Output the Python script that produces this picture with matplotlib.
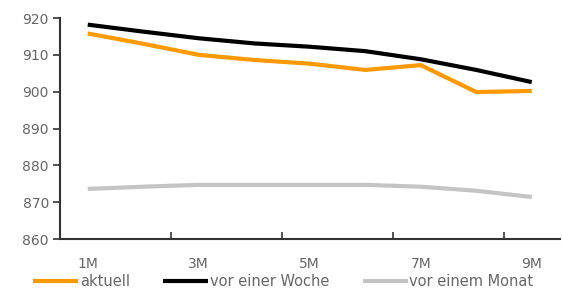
import numpy as np
import matplotlib.pyplot as plt

plt.rcParams['font.family'] = ['DejaVu Sans']

# ── data ──────────────────────────────────────────────────────────────────────
months = ["1M", "2M", "3M", "4M", "5M", "6M", "7M", "8M", "9M"]
aktuell = [915.8, 913.0, 910.0, 908.6, 907.6, 905.9, 907.2, 899.9, 900.2]
vor_woche = [918.2, 916.3, 914.5, 913.1, 912.2, 911.0, 908.8, 905.9, 902.6]
vor_monat = [873.6, 874.2, 874.7, 874.7, 874.7, 874.7, 874.2, 873.1, 871.4]
label_months = ["1M", "3M", "5M", "7M", "9M"]

x = np.arange(1, len(months) + 1)
txt_col = "#666666"
fs = 10

fig = plt.figure(figsize=(5.62, 3.03), dpi=100)
ax = fig.add_axes([60 / 562, 64 / 303, 499.5 / 562, 221 / 303])

ax.plot(x, aktuell, color="#FF9900", lw=3.0, label="aktuell", solid_capstyle="butt")
ax.plot(x, vor_woche, color="#000000", lw=3.0, label="vor einer Woche", solid_capstyle="butt")
ax.plot(x, vor_monat, color="#C4C4C4", lw=3.0, label="vor einem Monat", solid_capstyle="butt")

ax.set_xlim(0.5, len(months) + 0.5)
ax.set_ylim(860, 920)
ax.set_yticks(np.arange(860, 921, 10))

# tick marks between categories, labels on every second category
ax.set_xticks(np.arange(0.5, len(months), 2))
ax.set_xticklabels([])
ax.set_xticks([months.index(m) + 1 for m in label_months], minor=True)
ax.set_xticklabels(label_months, minor=True)
ax.tick_params(axis="x", which="major", length=5, width=1.2, color="#333333", direction="in")
ax.tick_params(axis="x", which="minor", length=0, pad=13, labelsize=fs, labelcolor=txt_col)
ax.tick_params(axis="y", length=5, width=1.2, color="#333333", pad=3,
               labelsize=fs, labelcolor=txt_col)

for s in ["top", "right"]:
    ax.spines[s].set_visible(False)
for s in ["left", "bottom"]:
    ax.spines[s].set_linewidth(1.5)
    ax.spines[s].set_color("#333333")

leg = fig.legend(loc="center left", bbox_to_anchor=(33 / 562, 1 - 282 / 303),
                 ncol=3, frameon=False, fontsize=10.5, handlelength=3.1,
                 handletextpad=0.1, columnspacing=2.3, borderaxespad=0,
                 borderpad=0)
for t in leg.get_texts():
    t.set_color(txt_col)

fig.savefig("out.png", dpi=100)
